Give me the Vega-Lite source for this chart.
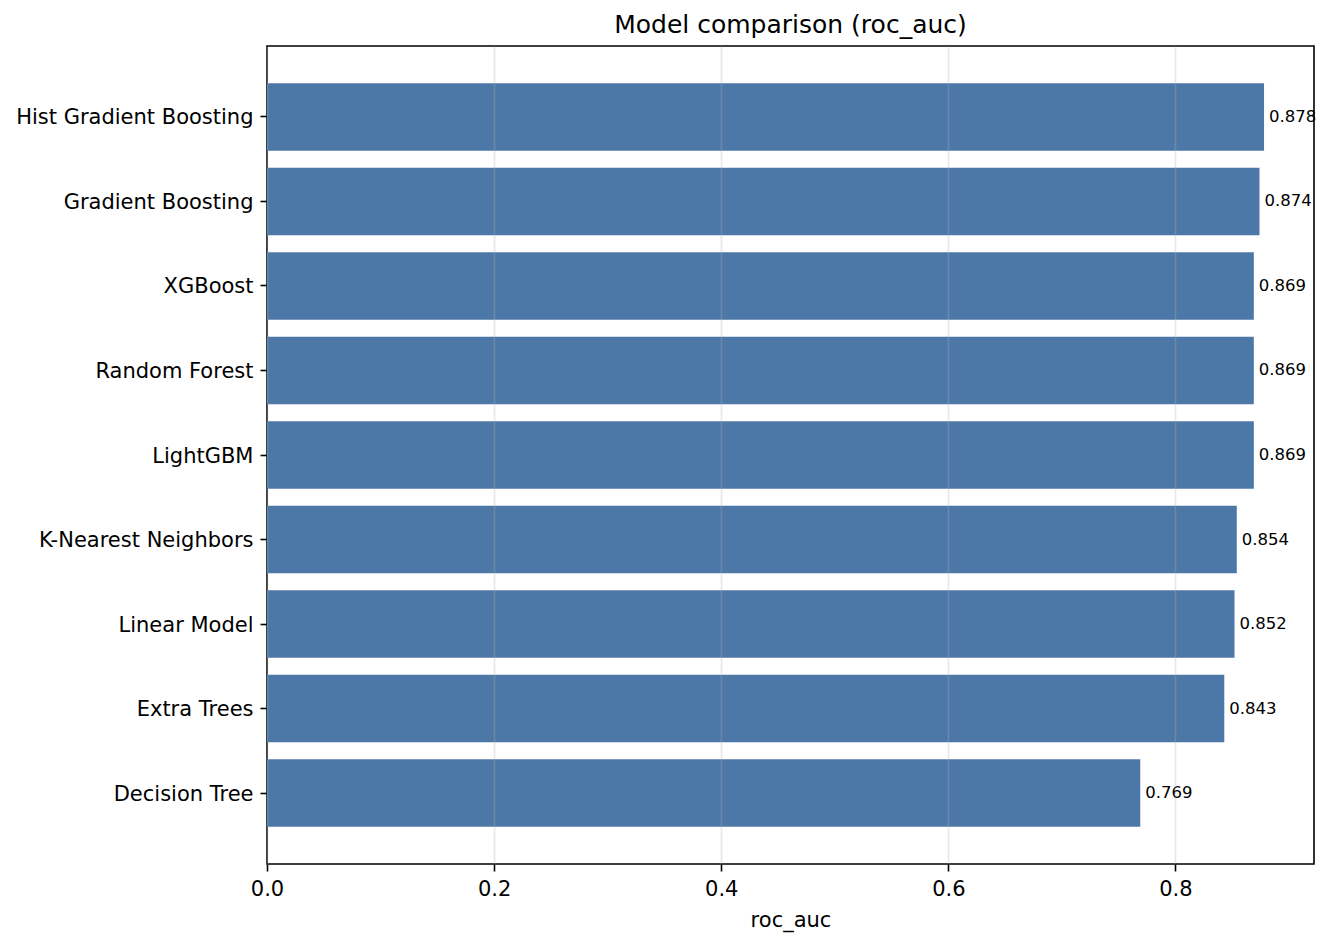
{
  "$schema": "https://vega.github.io/schema/vega-lite/v6.json",
  "autosize": {"type": "none"},
  "padding": {"left": 267, "top": 46, "right": 19, "bottom": 80},
  "width": 1047,
  "height": 818,
  "background": "white",
  "title": {
    "text": "Model comparison (roc_auc)",
    "font": "DejaVu Sans",
    "fontSize": 25,
    "fontWeight": "normal",
    "color": "black",
    "anchor": "middle",
    "offset": 8
  },
  "config": {
    "view": {"stroke": "black", "strokeWidth": 1.6},
    "font": "DejaVu Sans"
  },
  "data": {
    "values": [
      {"model": "Hist Gradient Boosting", "score": 0.878},
      {"model": "Gradient Boosting", "score": 0.874},
      {"model": "XGBoost", "score": 0.869},
      {"model": "Random Forest", "score": 0.869},
      {"model": "LightGBM", "score": 0.869},
      {"model": "K-Nearest Neighbors", "score": 0.854},
      {"model": "Linear Model", "score": 0.852},
      {"model": "Extra Trees", "score": 0.843},
      {"model": "Decision Tree", "score": 0.769}
    ]
  },
  "encoding": {
    "y": {
      "field": "model",
      "type": "nominal",
      "sort": null,
      "scale": {"paddingInner": 0.2, "paddingOuter": 0.44},
      "axis": {
        "title": null,
        "labelFont": "DejaVu Sans",
        "labelFontSize": 21,
        "labelColor": "black",
        "labelLimit": 400,
        "labelOffset": 1.5,
        "tickSize": 7,
        "tickWidth": 1.6,
        "tickColor": "black",
        "labelPadding": 7,
        "domain": false,
        "grid": false
      }
    },
    "x": {
      "field": "score",
      "type": "quantitative",
      "scale": {"domain": [0, 0.922], "nice": false, "zero": true},
      "axis": {
        "title": "roc_auc",
        "titleFont": "DejaVu Sans",
        "titleFontSize": 21,
        "titleFontWeight": "normal",
        "titleColor": "black",
        "titlePadding": 10,
        "values": [0, 0.2, 0.4, 0.6, 0.8],
        "format": ".1f",
        "labelFont": "DejaVu Sans",
        "labelFontSize": 21,
        "labelColor": "black",
        "labelFlush": false,
        "tickSize": 7,
        "tickWidth": 1.6,
        "tickColor": "black",
        "labelPadding": 7,
        "domain": false,
        "grid": true,
        "gridColor": "#b0b0b0",
        "gridOpacity": 0.3,
        "gridWidth": 1.6,
        "zindex": 1
      }
    }
  },
  "layer": [
    {
      "mark": {"type": "bar", "color": "#4c78a8"}
    },
    {
      "mark": {
        "type": "text",
        "align": "left",
        "baseline": "middle",
        "dx": 5,
        "font": "DejaVu Sans",
        "fontSize": 16.5,
        "color": "black"
      },
      "encoding": {
        "text": {"field": "score", "type": "quantitative", "format": ".3f"}
      }
    }
  ]
}
